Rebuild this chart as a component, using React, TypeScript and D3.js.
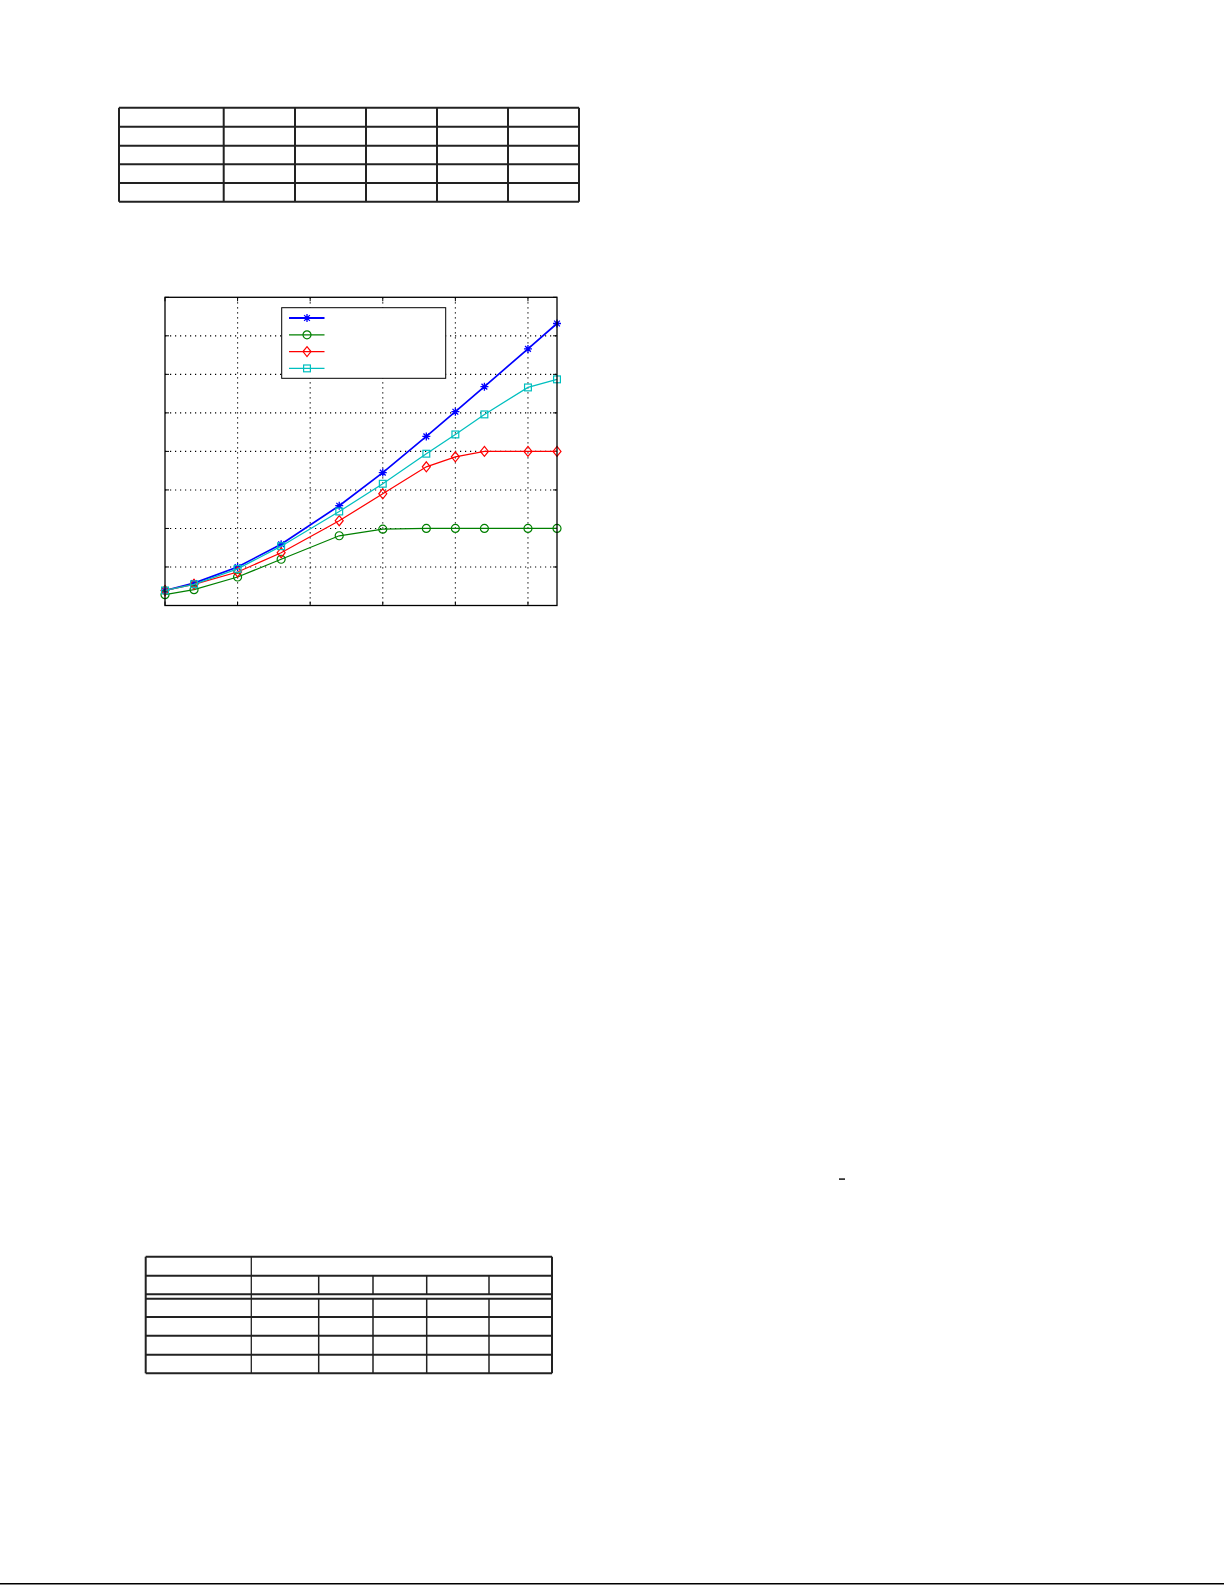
import React, { useEffect, useRef } from 'react';
import * as d3 from 'd3';

// x values shared by every curve
const xValues = [0, 2, 5, 8, 12, 15, 18, 20, 22, 25, 27];

// curve values
const seriesStar = [1.95, 2.9, 5.0, 7.95, 12.95, 17.25, 21.95, 25.15, 28.4, 33.3, 36.6];
const seriesCircle = [1.4, 2.05, 3.7, 6.0, 9.05, 9.9, 10, 10, 10, 10, 10];
const seriesDiamond = [1.95, 2.75, 4.35, 6.85, 11.0, 14.5, 18.0, 19.3, 20, 20, 20];
const seriesSquare = [1.95, 2.75, 4.75, 7.7, 12.2, 15.8, 19.7, 22.2, 24.8, 28.3, 29.35];

const xTicks = [0, 5, 10, 15, 20, 25];
const yTicks = [0, 5, 10, 15, 20, 25, 30, 35, 40];

const seriesList = [
  { name: 'star', values: seriesStar, color: '#0000ff', marker: 'star', width: 1.7 },
  { name: 'circle', values: seriesCircle, color: '#008000', marker: 'circle', width: 1.25 },
  { name: 'diamond', values: seriesDiamond, color: '#ff0000', marker: 'diamond', width: 1.25 },
  { name: 'square', values: seriesSquare, color: '#00bfbf', marker: 'square', width: 1.25 },
];

// empty tables of the page: column edges and row edges
const topTableCols = [119, 223.7, 295, 366, 437, 508, 579];
const topTableRows = [107.7, 126.7, 145.7, 164.3, 183, 201.7];
const bottomTableCols = [145.7, 251.3, 318.7, 373, 426.7, 489, 552];
const bottomTableRows = [1256.7, 1275.7, 1298.7, 1317, 1335.7, 1354.7, 1373.3];

function drawMarker(g, type, color) {
  if (type === 'star') {
    const r = 4;
    const d = r * 0.72;
    g.append('path')
      .attr('d', `M${-r},0L${r},0M0,${-r}L0,${r}M${-d},${-d}L${d},${d}M${-d},${d}L${d},${-d}`)
      .attr('stroke', color).attr('stroke-width', 1.3).attr('fill', 'none');
  } else if (type === 'circle') {
    g.append('circle').attr('r', 4).attr('fill', 'none').attr('stroke', color).attr('stroke-width', 1.2);
  } else if (type === 'diamond') {
    g.append('path').attr('d', 'M0,-5L4,0L0,5L-4,0Z')
      .attr('fill', 'none').attr('stroke', color).attr('stroke-width', 1.2);
  } else {
    g.append('rect').attr('x', -3.4).attr('y', -3.4).attr('width', 6.8).attr('height', 6.8)
      .attr('fill', 'none').attr('stroke', color).attr('stroke-width', 1.2);
  }
}

const App = () => {
  const ref = useRef(null);

  useEffect(() => {
    const svg = d3.select(ref.current);
    svg.selectAll('*').remove();

    // plot box
    const left = 165, right = 557, top = 297.3, bottom = 605.5;

    const x = d3.scaleLinear().domain([0, 27]).range([left, right]);
    const y = d3.scaleLinear().domain([0, 40]).range([bottom, top]);

    const plot = svg.append('g');

    // dotted grid
    plot.append('g')
      .selectAll('line.vx')
      .data(xTicks.slice(1))
      .join('line')
      .attr('x1', d => x(d)).attr('x2', d => x(d))
      .attr('y1', top).attr('y2', bottom)
      .attr('stroke', '#000').attr('stroke-width', 1.1).attr('stroke-dasharray', '1.2,3.8');
    plot.append('g')
      .selectAll('line')
      .data(yTicks.slice(1, -1))
      .join('line')
      .attr('y1', d => y(d)).attr('y2', d => y(d))
      .attr('x1', left).attr('x2', right)
      .attr('stroke', '#000').attr('stroke-width', 1.1).attr('stroke-dasharray', '1.2,3.8');

    // ticks inside the box on all sides
    const tl = 4;
    const ticks = plot.append('g').attr('stroke', '#000').attr('stroke-width', 1);
    xTicks.forEach(t => {
      ticks.append('line').attr('x1', x(t)).attr('x2', x(t)).attr('y1', bottom).attr('y2', bottom - tl);
      ticks.append('line').attr('x1', x(t)).attr('x2', x(t)).attr('y1', top).attr('y2', top + tl);
    });
    yTicks.forEach(t => {
      ticks.append('line').attr('y1', y(t)).attr('y2', y(t)).attr('x1', left).attr('x2', left + tl);
      ticks.append('line').attr('y1', y(t)).attr('y2', y(t)).attr('x1', right).attr('x2', right - tl);
    });

    // curves
    const line = d3.line().x(d => x(d[0])).y(d => y(d[1]));
    seriesList.forEach(s => {
      const pts = xValues.map((xv, i) => [xv, s.values[i]]);
      plot.append('path')
        .datum(pts)
        .attr('d', line)
        .attr('fill', 'none')
        .attr('stroke', s.color)
        .attr('stroke-width', s.width);
      pts.forEach(p => {
        const g = plot.append('g').attr('transform', `translate(${x(p[0])},${y(p[1])})`);
        drawMarker(g, s.marker, s.color);
      });
    });

    // legend box, no labels
    const legend = plot.append('g');
    legend.append('rect')
      .attr('x', 281.7).attr('y', 307.7)
      .attr('width', 164).attr('height', 70.6)
      .attr('fill', '#fff').attr('stroke', '#000').attr('stroke-width', 1);
    seriesList.forEach((s, i) => {
      const ly = 318 + i * 16.8;
      legend.append('line')
        .attr('x1', 289).attr('x2', 324.5).attr('y1', ly).attr('y2', ly)
        .attr('stroke', s.color).attr('stroke-width', i === 0 ? 2.2 : 1.2);
      const g = legend.append('g').attr('transform', `translate(307,${ly})`);
      drawMarker(g, s.marker, s.color);
    });

    // frame
    plot.append('rect')
      .attr('x', left).attr('y', top)
      .attr('width', right - left).attr('height', bottom - top)
      .attr('fill', 'none').attr('stroke', '#000').attr('stroke-width', 1.3);

    // top table
    const t1 = svg.append('g').attr('stroke', '#222').attr('stroke-width', 2).attr('fill', 'none');
    topTableRows.forEach(r => {
      t1.append('line').attr('x1', topTableCols[0]).attr('x2', topTableCols[topTableCols.length - 1])
        .attr('y1', r).attr('y2', r);
    });
    topTableCols.forEach(c => {
      t1.append('line').attr('x1', c).attr('x2', c)
        .attr('y1', topTableRows[0]).attr('y2', topTableRows[topTableRows.length - 1]);
    });

    // bottom table
    const bl = bottomTableCols[0], br = bottomTableCols[bottomTableCols.length - 1];
    const bt = bottomTableRows[0], bb = bottomTableRows[bottomTableRows.length - 1];
    const t2 = svg.append('g').attr('stroke', '#222').attr('fill', 'none');
    bottomTableRows.forEach(r => {
      t2.append('line').attr('x1', bl).attr('x2', br).attr('y1', r).attr('y2', r).attr('stroke-width', 2);
    });
    // double rule under the header
    t2.append('line').attr('x1', bl).attr('x2', br).attr('y1', 1294.3).attr('y2', 1294.3).attr('stroke-width', 2);
    t2.append('line').attr('x1', bl).attr('x2', bl).attr('y1', bt).attr('y2', bb).attr('stroke-width', 2);
    t2.append('line').attr('x1', br).attr('x2', br).attr('y1', bt).attr('y2', bb).attr('stroke-width', 2);
    t2.append('line').attr('x1', bottomTableCols[1]).attr('x2', bottomTableCols[1])
      .attr('y1', bt).attr('y2', bb).attr('stroke-width', 1.3);
    bottomTableCols.slice(2, -1).forEach(c => {
      t2.append('line').attr('x1', c).attr('x2', c).attr('y1', bottomTableRows[1]).attr('y2', 1294.3).attr('stroke-width', 1.5);
      t2.append('line').attr('x1', c).attr('x2', c).attr('y1', bottomTableRows[2]).attr('y2', bb).attr('stroke-width', 1.5);
    });

    // stray dash and page rule
    svg.append('rect').attr('x', 839).attr('y', 1178.3).attr('width', 6).attr('height', 1.6).attr('fill', '#222');
    svg.append('line').attr('x1', 0).attr('x2', 1224).attr('y1', 1583.8).attr('y2', 1583.8)
      .attr('stroke', '#000').attr('stroke-width', 1.5);
  }, []);

  return (
    <svg
      ref={ref}
      width={1225}
      height={1585}
      style={{ position: 'absolute', left: 0, top: 0, background: '#fff' }}
    />
  );
};

export default App;
